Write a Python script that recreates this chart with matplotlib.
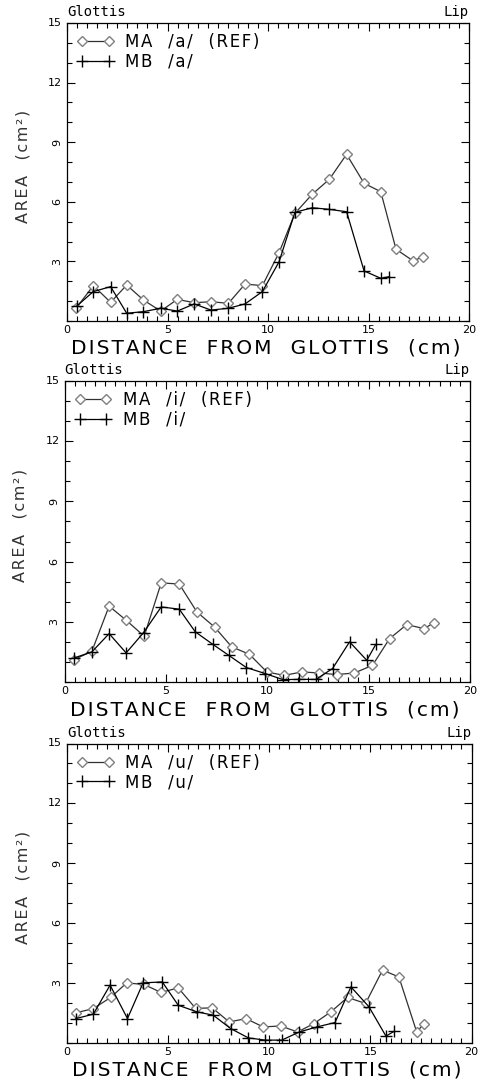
import matplotlib
matplotlib.use("Agg")
import matplotlib.pyplot as plt
from matplotlib.ticker import MultipleLocator, FixedLocator

plt.rcParams['font.family'] = ['DejaVu Sans']

# ---- data: panel /a/ ----
a_ma_x = [0.45, 1.31, 2.17, 2.97, 3.80, 4.66, 5.49, 6.33, 7.16, 8.03, 8.86, 9.72,
          10.55, 11.34, 12.20, 13.05, 13.91, 14.78, 15.61, 16.37, 17.23, 17.70]
a_ma_y = [0.64, 1.78, 0.94, 1.81, 1.06, 0.50, 1.09, 0.92, 0.97, 0.89, 1.86, 1.78,
          3.44, 5.42, 6.38, 7.13, 8.39, 6.93, 6.51, 3.61, 3.02, 3.24]
a_mb_x = [0.48, 1.31, 2.17, 2.97, 3.80, 4.66, 5.49, 6.33, 7.16, 8.03, 8.86, 9.72,
          10.55, 11.34, 12.20, 13.05, 13.91, 14.78, 15.61, 16.04]
a_mb_y = [0.75, 1.48, 1.73, 0.39, 0.47, 0.64, 0.50, 0.86, 0.55, 0.64, 0.86, 1.48,
          2.98, 5.47, 5.70, 5.62, 5.50, 2.52, 2.15, 2.23]

# ---- data: panel /i/ ----
i_ma_x = [0.48, 1.35, 2.20, 3.04, 3.93, 4.77, 5.66, 6.53, 7.40, 8.25, 9.12, 9.98,
          10.83, 11.71, 12.56, 13.43, 14.30, 15.19, 16.03, 16.88, 17.74, 18.20]
i_ma_y = [1.12, 1.53, 3.78, 3.08, 2.28, 4.94, 4.88, 3.49, 2.74, 1.75, 1.38, 0.50,
          0.33, 0.50, 0.45, 0.37, 0.45, 0.83, 2.16, 2.86, 2.66, 2.94]
i_mb_x = [0.48, 1.35, 2.20, 3.04, 3.90, 4.77, 5.66, 6.45, 7.31, 8.10, 8.97, 9.90,
          10.77, 11.57, 12.40, 13.22, 14.06, 14.91, 15.35]
i_mb_y = [1.20, 1.50, 2.41, 1.45, 2.46, 3.74, 3.63, 2.50, 1.88, 1.33, 0.72, 0.42,
          0.12, 0.13, 0.13, 0.67, 2.00, 1.08, 1.87]

# ---- data: panel /u/ ----
u_ma_x = [0.44, 1.30, 2.16, 2.95, 3.81, 4.65, 5.50, 6.36, 7.18, 8.02, 8.85, 9.70,
          10.56, 11.40, 12.21, 13.05, 13.87, 14.76, 15.60, 16.41, 17.29, 17.66]
u_ma_y = [1.49, 1.70, 2.26, 2.99, 2.91, 2.51, 2.74, 1.71, 1.74, 1.03, 1.20, 0.78,
          0.83, 0.53, 0.95, 1.54, 2.26, 1.96, 3.63, 3.29, 0.53, 0.95]
u_mb_x = [0.44, 1.30, 2.13, 2.99, 3.76, 4.71, 5.50, 6.41, 7.23, 8.09, 8.97, 9.80,
          10.62, 11.49, 12.35, 13.25, 14.04, 14.93, 15.77, 16.19]
u_mb_y = [1.20, 1.42, 2.88, 1.20, 2.99, 3.04, 1.87, 1.54, 1.37, 0.70, 0.23, 0.12,
          0.12, 0.53, 0.78, 1.00, 2.79, 1.79, 0.32, 0.57]

vowels = ["a", "i", "u"]
panels = [(a_ma_x, a_ma_y, a_mb_x, a_mb_y),
          (i_ma_x, i_ma_y, i_mb_x, i_mb_y),
          (u_ma_x, u_ma_y, u_mb_x, u_mb_y)]
y_ticks = [3, 6, 9, 12, 15]
x_ticks = [0, 5, 10, 15, 20]

HS = "\u200a"  # hair space used as letter spacing


def spaced(s, gap=3):
    words = s.split(" ")
    return (" " * gap).join(HS.join(w) for w in words)


W, H = 482, 1080
fig = plt.figure(figsize=(W / 100, H / 100), dpi=100)

# axes boxes in pixels: (left, top, right, bottom)
boxes = [(67, 23, 469, 321), (64.5, 381, 470, 682), (67, 743.5, 471.5, 1042.5)]

for (l, t, r, b), v, (mx, my, bx, by) in zip(boxes, vowels, panels):
    ax = fig.add_axes([l / W, 1 - b / H, (r - l) / W, (b - t) / H])
    ax.plot(mx, my, color='#303030', lw=0.9, marker='D', markersize=5,
            markerfacecolor='white', markeredgecolor='#808080', markeredgewidth=1.0,
            label=spaced(f"MA /{v}/ (REF)", 3))
    ax.plot(bx, by, color='black', lw=0.9, marker='+', markersize=9,
            markeredgewidth=1.0, label=spaced(f"MB /{v}/", 3))
    ax.set_xlim(0, 20)
    ax.set_ylim(0, 15)
    ax.xaxis.set_major_locator(FixedLocator(x_ticks))
    ax.xaxis.set_minor_locator(MultipleLocator(0.5))
    ax.yaxis.set_major_locator(FixedLocator(y_ticks))
    ax.yaxis.set_minor_locator(MultipleLocator(1))
    ax.tick_params(which='both', direction='in', top=True, right=True, width=0.8,
                   colors='black')
    ax.tick_params(which='major', length=6)
    ax.tick_params(which='minor', length=3.5)
    ax.tick_params(axis='x', labelsize=8, pad=3)
    ax.set_yticklabels([])
    for yt in y_ticks:
        rot = 0 if yt >= 10 else 90
        ax.text(-0.012, yt, str(yt), transform=ax.get_yaxis_transform(),
                ha='right', va='center', fontsize=8, rotation=rot)
    for sp in ax.spines.values():
        sp.set_linewidth(0.9)
    ax.text(0.495, -0.092, spaced("DISTANCE FROM GLOTTIS (cm)", 3),
            transform=ax.transAxes, ha='center', va='center', fontsize=14.5)
    ax.text(-0.11, 0.52, spaced("AREA (cm²)", 3), transform=ax.transAxes,
            ha='center', va='center', rotation=90, fontsize=11.5, color='#333333')
    ax.text(0, 1.012, "Glottis", transform=ax.transAxes, ha='left', va='bottom',
            fontsize=10, family='DejaVu Sans Mono')
    ax.text(1, 1.012, "Lip", transform=ax.transAxes, ha='right', va='bottom',
            fontsize=10, family='DejaVu Sans Mono')
    ax.legend(loc='upper left', frameon=False, numpoints=2, handlelength=2.2,
              prop={'size': 12}, borderaxespad=0.2, handletextpad=0.7,
              labelspacing=0.1)

fig.savefig("out.png", dpi=100)
